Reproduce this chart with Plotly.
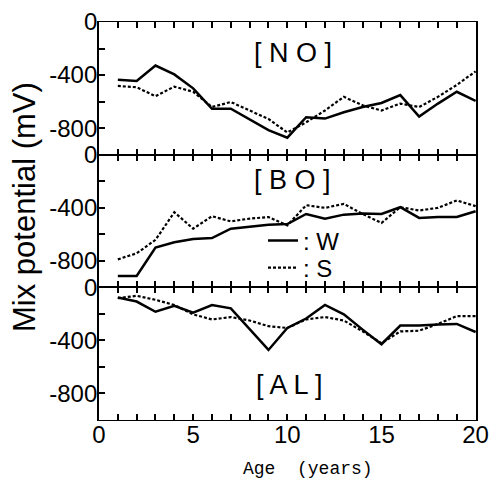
import plotly.graph_objects as go
from plotly.subplots import make_subplots

ages = list(range(1, 21))

no_w = [-436, -444, -328, -395, -500, -654, -654, -735, -815, -872, -718, -728, -680, -641, -610, -551, -713, -615, -526, -595]
no_s = [-482, -492, -559, -487, -526, -641, -603, -667, -731, -833, -756, -667, -564, -628, -667, -615, -641, -564, -474, -372]

bo_w = [-914, -914, -700, -660, -635, -629, -558, -541, -528, -523, -447, -482, -452, -444, -447, -396, -477, -470, -470, -426]
bo_s = [-789, -744, -642, -434, -558, -464, -503, -482, -470, -533, -381, -401, -371, -447, -515, -396, -421, -401, -345, -388]

al_w = [-77, -107, -184, -140, -191, -133, -158, -314, -472, -306, -235, -133, -204, -319, -429, -288, -288, -281, -276, -337]
al_s = [-82, -64, -94, -133, -204, -242, -224, -250, -293, -306, -242, -224, -250, -332, -421, -332, -327, -276, -217, -217]

panel_labels = ["[ N O ]", "[ B O ]", "[ A L ]"]
series_names = [": W", ": S"]
x_ticks = list(range(0, 21))
x_ticktext = [str(v) if v % 5 == 0 else "" for v in x_ticks]
y_ticks = [-1000, -800, -600, -400, -200, 0]
y_ticktext = ["", "-800", "", "-400", "", "0"]

fig = make_subplots(rows=3, cols=1, shared_xaxes=True, vertical_spacing=0)

panels = [(no_w, no_s), (bo_w, bo_s), (al_w, al_s)]
for i, (w, s) in enumerate(panels):
    row = i + 1
    fig.add_trace(go.Scatter(x=ages, y=w, mode="lines", name=series_names[0],
                             line=dict(color="black", width=2.5),
                             showlegend=(row == 2), legend="legend"), row=row, col=1)
    fig.add_trace(go.Scatter(x=ages, y=s, mode="lines", name=series_names[1],
                             line=dict(color="black", width=2.2, dash="3px,2px"),
                             showlegend=(row == 2), legend="legend2"), row=row, col=1)

tickfont = dict(family="Liberation Sans", size=24, color="black")
for r in range(1, 4):
    fig.update_yaxes(row=r, col=1, range=[-1000, 0], tickvals=y_ticks, ticktext=y_ticktext,
                     ticks="inside", ticklen=6, tickwidth=1.5, tickcolor="black",
                     showline=True, linecolor="black", linewidth=1.8, mirror=True,
                     showgrid=False, zeroline=False, tickfont=tickfont,
                     ticklabelstandoff=-5, automargin=False)
    fig.update_xaxes(row=r, col=1, range=[0, 20.02], tickvals=x_ticks, ticktext=x_ticktext,
                     ticks="inside", ticklen=6, tickwidth=1.5, tickcolor="black",
                     showline=True, linecolor="black", linewidth=1.2, mirror="ticks",
                     showgrid=False, zeroline=False, tickfont=tickfont,
                     showticklabels=(r == 3), ticklabelstandoff=-7,
                     ticklabeloverflow="allow", automargin=False)

label_pos = [(10.3, -233), (10.3, -188), (10.1, -737)]
xrefs = ["x", "x2", "x3"]
yrefs = ["y", "y2", "y3"]
for i, (lx, ly) in enumerate(label_pos):
    fig.add_annotation(x=lx, y=ly, xref=xrefs[i], yref=yrefs[i], text=panel_labels[i],
                       showarrow=False,
                       font=dict(family="Liberation Sans", size=27, color="black"))

fig.add_annotation(x=25, y=207, xref="paper", yref="paper", text="Mix potential (mV)",
                   textangle=-90, showarrow=False, xanchor="center", yanchor="middle",
                   font=dict(family="Liberation Sans", size=31, color="black"))
fig.add_annotation(x=308, y=469, xref="paper", yref="paper", text="Age&nbsp;&nbsp;(years)",
                   showarrow=False, xanchor="center", yanchor="middle",
                   font=dict(family="Liberation Mono", size=18, color="black"))

W, H = 489, 483
L, R, T, B = 99, 13, 22, 63
pw, ph = W - L - R, H - T - B
# convert pixel-placed annotations into paper coordinates
for ann in fig.layout.annotations[3:]:
    ann.x = (ann.x - L) / pw
    ann.y = 1 - (ann.y - T) / ph

fig.update_layout(
    width=W, height=H,
    margin=dict(l=L, r=R, t=T, b=B, autoexpand=False),
    paper_bgcolor="white", plot_bgcolor="white",
    legend=dict(x=(263 - L) / pw, y=1 - (241 - T) / ph, xanchor="left", yanchor="middle",
                bgcolor="rgba(0,0,0,0)", font=dict(family="Liberation Sans", size=24, color="black"),
                itemwidth=30),
    legend2=dict(x=(263 - L) / pw, y=1 - (268 - T) / ph, xanchor="left", yanchor="middle",
                 bgcolor="rgba(0,0,0,0)", font=dict(family="Liberation Sans", size=24, color="black"),
                 itemwidth=30),
)

fig.write_html("out.html", config={"displayModeBar": False},
               post_script="document.body.style.margin='0px';")
